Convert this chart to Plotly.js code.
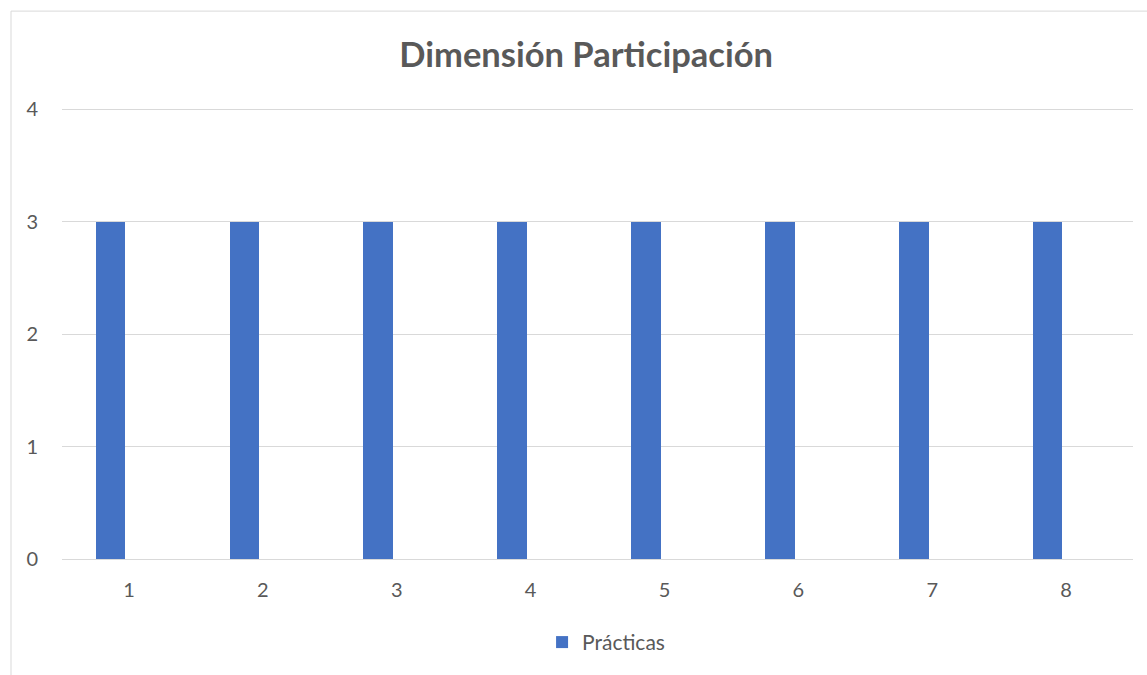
<!DOCTYPE html>
<html>
<head>
<meta charset="utf-8">
<script src="https://cdn.plot.ly/plotly-3.0.1.min.js"></script>
<style>
html,body{margin:0;padding:0;background:#fff;}
#chart{width:1147px;height:675px;}
</style>
</head>
<body>
<div id="chart"></div>
<script>
const categories = ['1','2','3','4','5','6','7','8'];
const practicas = [3,3,3,3,3,3,3,3];
const seriesName = 'Prácticas';
const yTicks = [0,1,2,3,4];

const FONT = 'Lato, "Open Sans", sans-serif';
const GREY = '#595959';

const data = [{
  type: 'bar',
  x: categories,
  y: practicas,
  name: seriesName,
  marker: {color: '#4472C4'},
  width: 0.221,
  offset: -0.248,
  showlegend: true,
  hoverinfo: 'x+y'
}];

const layout = {
  width: 1147, height: 675,
  margin: {l: 62, r: 14, t: 108, b: 115.5},
  paper_bgcolor: '#fff', plot_bgcolor: '#fff',
  title: {text: '<b>Dimensión Participación</b>', font: {family: FONT, size: 34.5, color: GREY}, x: 0.511, xanchor: 'center', y: 0.918, yanchor: 'middle'},
  font: {family: FONT, color: GREY, size: 20},
  xaxis: {
    type: 'category',
    showgrid: false, zeroline: false,
    showline: true, linecolor: '#d9d9d9', linewidth: 1,
    ticks: 'outside', ticklen: 13, tickcolor: 'rgba(0,0,0,0)',
    tickfont: {family: FONT, size: 20, color: GREY}
  },
  yaxis: {
    range: [0, 4.01], tickvals: yTicks,
    showgrid: true, gridcolor: '#d9d9d9', gridwidth: 1,
    zeroline: false, showline: false,
    ticks: 'outside', ticklen: 19, tickcolor: 'rgba(0,0,0,0)',
    tickfont: {family: FONT, size: 20, color: GREY}
  },
  legend: {orientation: 'h', x: 0.508, xanchor: 'center', y: -0.185, yanchor: 'middle', font: {family: FONT, size: 21, color: GREY}},
  shapes: [{
    type: 'rect', xref: 'paper', yref: 'paper',
    x0: (11-62)/1071, x1: 1.2, y0: -0.5, y1: (559.5-11)/451.5,
    line: {color: '#d9d9d9', width: 1}, fillcolor: 'rgba(0,0,0,0)', layer: 'below'
  }],
  bargap: 0
};

Plotly.newPlot('chart', data, layout, {displayModeBar: false, staticPlot: true});
</script>
</body>
</html>
